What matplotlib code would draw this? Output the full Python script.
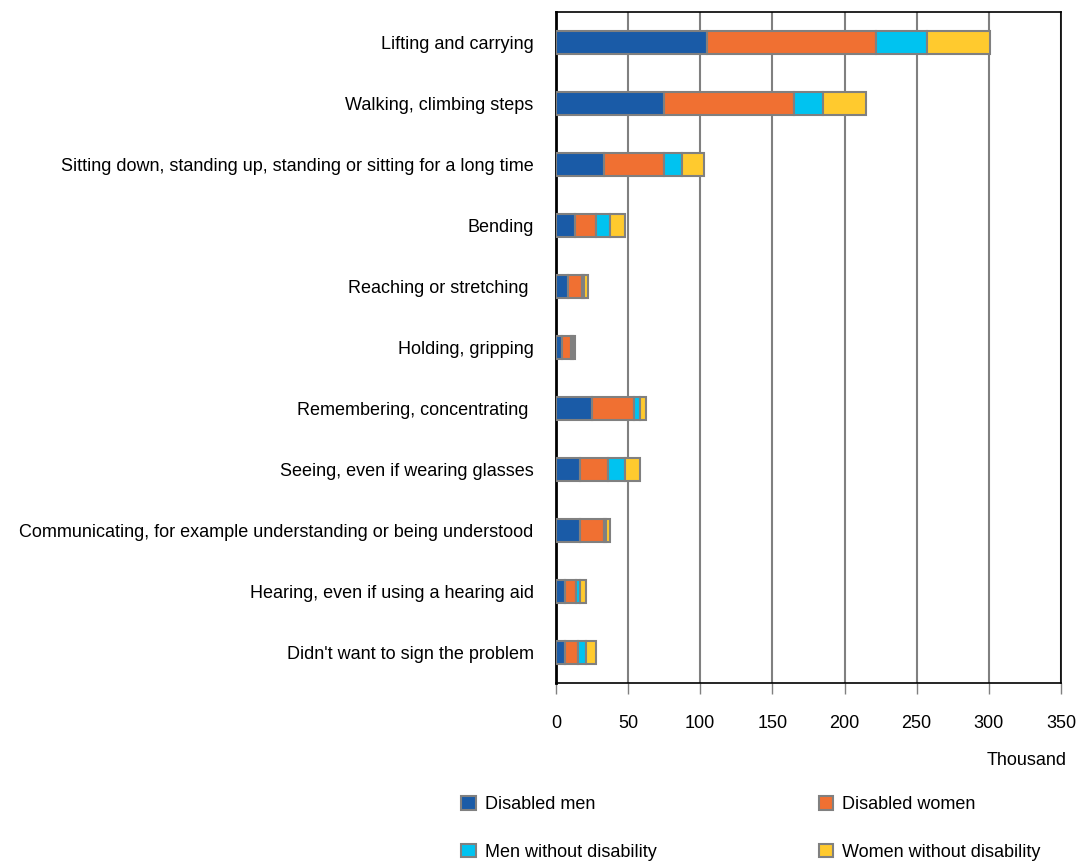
import matplotlib.pyplot as plt
import numpy as np

categories = [
    "Lifting and carrying",
    "Walking, climbing steps",
    "Sitting down, standing up, standing or sitting for a long time",
    "Bending",
    "Reaching or stretching ",
    "Holding, gripping",
    "Remembering, concentrating ",
    "Seeing, even if wearing glasses",
    "Communicating, for example understanding or being understood",
    "Hearing, even if using a hearing aid",
    "Didn't want to sign the problem",
]
disabled_men = [105, 75, 33, 13.5, 8, 4, 25, 16.5, 16.5, 6.5, 6.5]
disabled_women = [117, 90, 42, 14, 10, 6.5, 29, 19.5, 17, 7.5, 8.5]
men_no_disability = [35, 20, 12.5, 10, 1.5, 1.5, 4, 11.5, 1.5, 2.5, 5.5]
women_no_disability = [44, 30, 15, 10, 2.5, 1.5, 4.5, 10.5, 2.5, 4, 7]

series = [disabled_men, disabled_women, men_no_disability, women_no_disability]
labels = ["Disabled men", "Disabled women", "Men without disability", "Women without disability"]
colors = ["#1A5BA7", "#F07032", "#00C3F0", "#FFCA2E"]

plt.rcParams['font.family'] = ['Liberation Sans Narrow', 'Liberation Sans', 'DejaVu Sans']

fig = plt.figure(figsize=(10.76, 8.61), dpi=100)
ax = fig.add_axes([0.5167, 0.2067, 0.4693, 0.7793])

y = np.arange(len(categories))
left = np.zeros(len(categories))
handles = []
for vals, lab, col in zip(series, labels, colors):
    b = ax.barh(y, vals, left=left, height=0.38, color=col, edgecolor="#808080",
                linewidth=1.5, label=lab, zorder=3)
    handles.append(b)
    left += np.array(vals)

ax.set_xlim(0, 350)
ax.set_ylim(len(categories) - 0.5, -0.5)
ax.set_xticks(np.arange(0, 351, 50))
ax.set_yticks(y)
ax.set_yticklabels(categories, fontsize=13)
ax.tick_params(axis='y', length=0, pad=16)
ax.tick_params(axis='x', direction='out', length=8, width=1, pad=15, labelsize=13, color="#808080")
ax.xaxis.grid(True, color="#808080", linewidth=1.5, zorder=0)
for s in ax.spines.values():
    s.set_color("black")
    s.set_linewidth(1.2)
ax.spines['left'].set_linewidth(2)

fig.text(0.991, 0.117, "Thousand", ha='right', va='center', fontsize=13)

# legend filled column-wise, so reorder to read row by row
order = [0, 2, 1, 3]
leg = fig.legend(handles=[handles[i] for i in order], loc='upper left',
                 bbox_to_anchor=(0.4135, 0.094),
                 ncol=2, frameon=False, fontsize=13, handlelength=0.8, handleheight=0.8,
                 handletextpad=0.5, columnspacing=9, labelspacing=1.67)

fig.savefig("out.png", dpi=100)
